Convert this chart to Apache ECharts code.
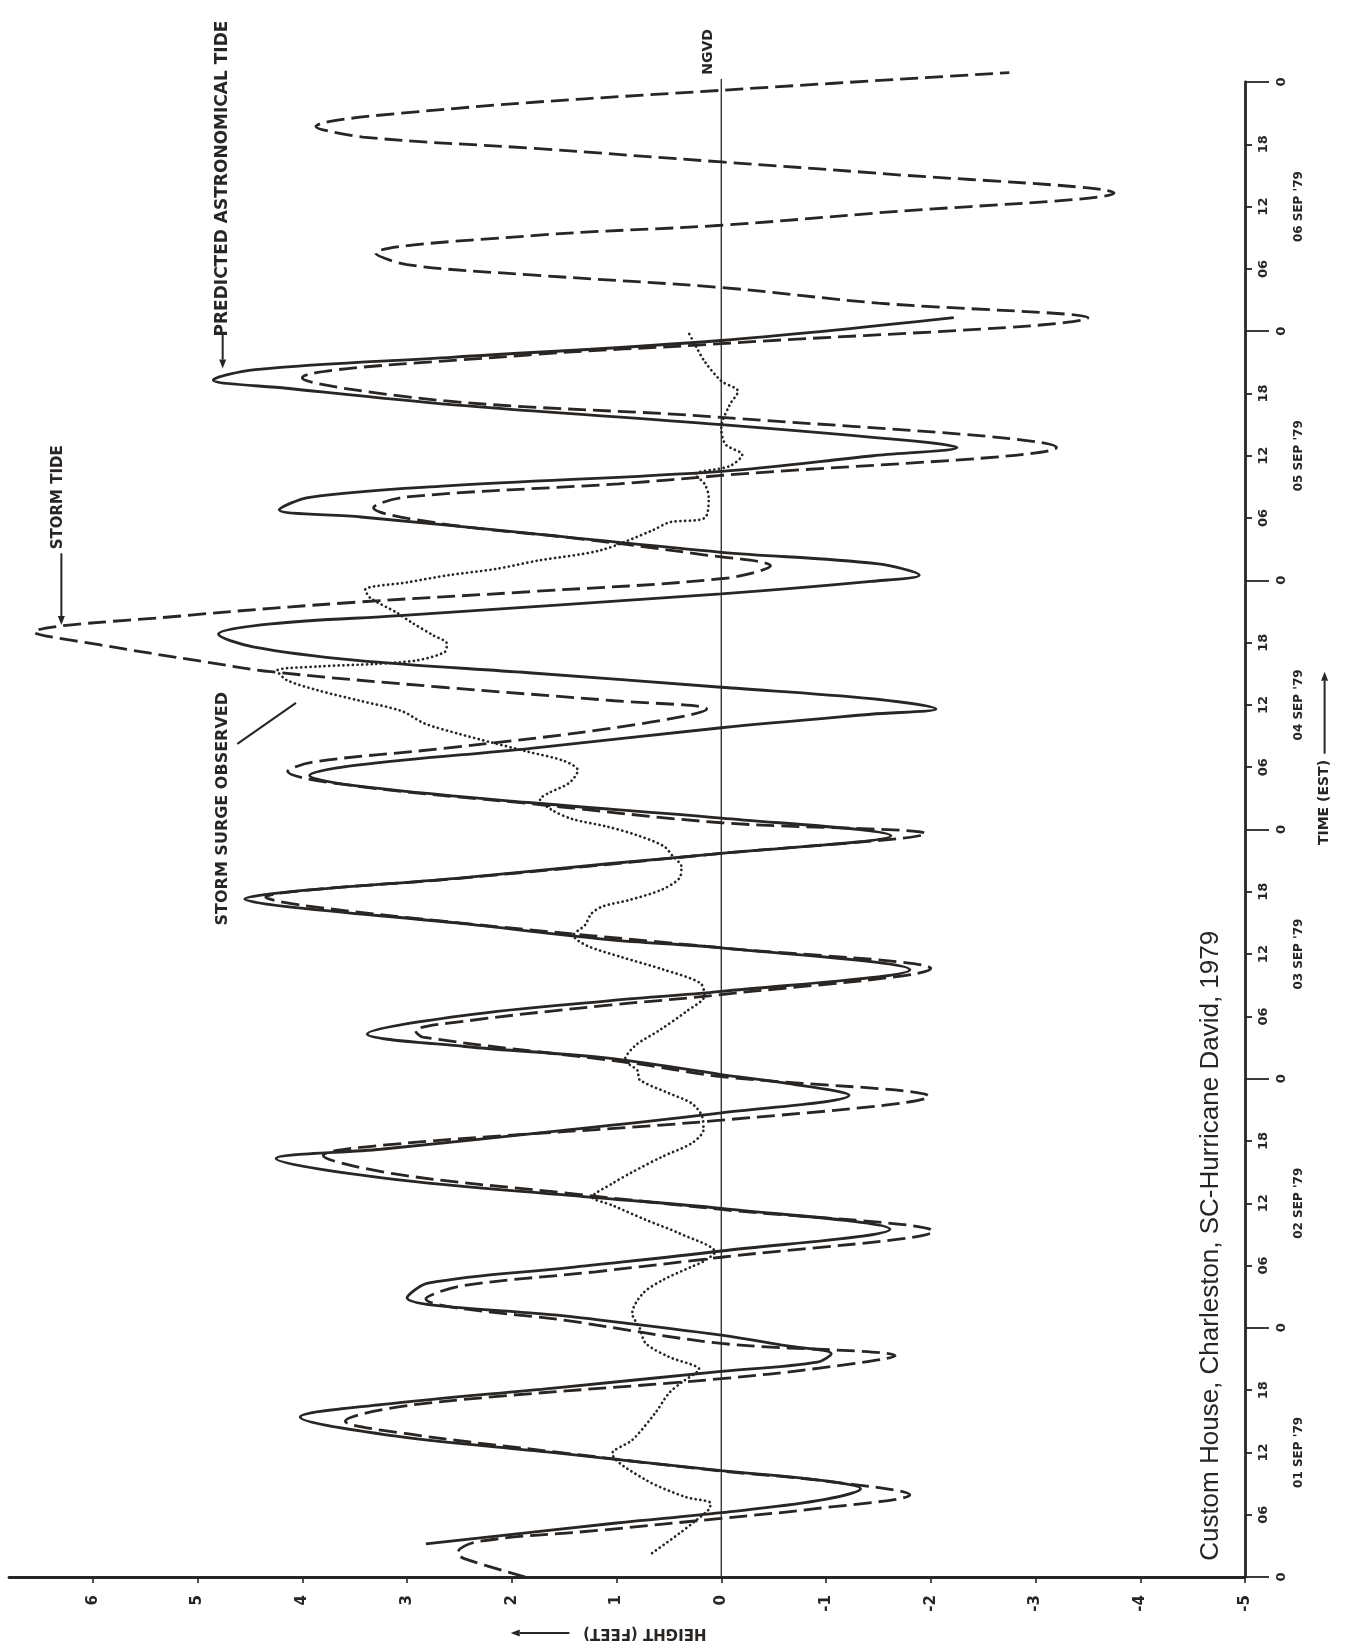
<!DOCTYPE html>
<html><head><meta charset="utf-8">
<script src="https://cdn.jsdelivr.net/npm/echarts@6/dist/echarts.min.js"></script>
<style>html,body{margin:0;padding:0;background:#fff;}#c{width:1356px;height:1648px;}</style>
</head><body><div id="c"></div>
<script>
// ---- DATA (hours since 01 Sep 1979 00:00 EST, height in feet rel. NGVD) ----
const predictedHours = [3.2,5.2,6.2,7.35,8.5,9.35,10.25,12.0,13.7,15.4,16.6,18.2,19.8,20.7,21.5,22.3,23.3,25.1,26.9,28.3,29.8,31.4,33.5,35.5,36.6,38.4,40.3,41.2,42.9,44.7,46.4,47.6,48.4,50.0,51.1,52.3,54.1,55.5,56.4,58.5,60.6,61.4,63.0,64.6,65.3,65.95,67.3,68.7,69.7,71.4,73.1,74.6,76.2,77.2,78.2,79.8,81.8,83.1,83.6,84.6,85.7,87.1,88.3,89.6,90.8,91.8,92.6,94.7,95.9,96.5,97.6,98.7,100.5,102.1,102.8,104.0,105.1,106.5,108.0,108.8,109.4,111.0,112.9,114.5,115.3,116.3,117.5,119.1,121.3];
const predictedFeet = [2.82,1.0,0,-0.92,-1.33,-0.92,0,1.62,3.2,4.02,3.25,1.6,0,-0.92,-1.05,-0.6,0,1.45,3.0,2.8,1.45,0,-1.61,0,1.26,3.2,4.25,3.25,1.62,0,-1.22,-0.6,0,1.1,2.45,3.38,2.45,1.08,0,-1.8,0,1.08,2.53,4.17,4.55,4.17,2.53,1.08,0,-1.62,0,1.84,3.48,3.93,3.48,1.84,0,-1.43,-2.05,-1.43,0,1.84,3.48,4.47,4.8,4.3,3.07,0,-1.43,-1.89,-1.48,0,1.8,3.44,4.22,3.93,2.62,0,-1.45,-2.25,-1.85,0,2.55,4.15,4.85,4.45,2.55,0,-2.22];

const stormTideHours = [0.0,1.8,2.3,3.4,4.5,5.65,6.6,7.9,9.35,10.2,12.0,13.8,15.0,16.6,19.1,20.1,21.3,22.5,24.6,26.8,28.0,29.4,30.8,33.3,35.4,37.0,38.8,40.6,41.8,44.0,46.3,48.2,49.5,52.0,52.6,53.6,55.1,56.1,58.6,60.6,63.0,64.7,65.5,66.2,67.3,69.7,71.6,72.65,74.5,76.2,77.6,78.5,79.8,81.8,83.6,84.4,85.7,87.2,88.2,89.8,91.0,92.6,93.9,94.9,96.2,97.4,98.5,100.0,101.5,103.0,104.0,105.3,106.1,108.8,111.7,113.3,115.5,117.7,118.8,121.3,122.7,124.2,125.4,126.4,127.5,129.2,130.2,131.4,133.3,135.2,136.3,137.6,138.7,139.7,141.4,143.2,144.9];
const stormTideFeet = [1.87,2.46,2.52,2.33,1.16,0,-0.92,-1.8,-0.9,0,1.55,3.0,3.59,2.93,0,-0.92,-1.66,0,1.4,2.82,2.5,1.2,0,-2.02,0,1.5,3.1,3.8,3.0,0,-1.98,0,0.85,2.85,2.92,2.4,1.05,0,-2.0,0,2.5,4.0,4.35,3.9,2.5,0,-1.95,0,1.84,3.5,4.14,3.9,2.66,1.02,0.14,1.02,2.66,4.3,4.96,5.94,6.56,5.12,3.48,1.84,-0.04,-0.47,0.2,1.35,2.7,3.32,3.03,0.98,0,-3.2,0,2.65,4.0,1.85,0,-3.5,-1.5,0,1.78,3.0,3.3,1.8,0,-1.5,-3.75,-1.5,0,1.78,3.42,3.87,2.6,0,-2.75];

const surgeHours = [2.3,4.2,5.3,6.5,7.1,7.7,9.35,11.9,13.2,15.8,17.7,18.8,19.6,20.0,21.2,22.5,24.0,25.4,27.3,28.6,29.9,30.4,31.3,33.1,34.4,35.8,36.6,37.9,39.0,40.5,41.8,43.1,44.3,45.6,46.6,47.9,48.8,49.8,51.2,52.6,54.5,56.0,57.2,58.5,59.7,60.8,61.8,62.8,63.9,64.6,65.2,66.2,67.3,68.4,69.4,70.4,71.5,72.3,73.0,73.9,74.9,75.5,76.5,77.7,78.6,79.5,80.4,81.2,82.2,83.4,84.4,85.4,86.4,87.3,87.7,87.95,88.3,89.1,89.9,90.7,91.9,92.9,94.3,95.1,95.8,96.5,97.1,97.9,98.9,100.8,101.6,102.0,104.0,105.3,106.2,107.0,108.1,109.1,110.7,112.9,114.2,115.2,117.1,118.7,120.0];
const surgeFeet = [0.66,0.40,0.26,0.12,0.10,0.34,0.72,1.04,0.85,0.63,0.50,0.37,0.25,0.21,0.5,0.72,0.78,0.85,0.75,0.56,0.28,0.17,0.06,0.40,0.72,1.04,1.23,1.04,0.85,0.56,0.28,0.17,0.18,0.28,0.5,0.78,0.8,0.92,0.82,0.6,0.33,0.16,0.2,0.55,0.95,1.28,1.41,1.3,1.24,1.13,0.88,0.57,0.4,0.38,0.46,0.55,0.82,1.1,1.42,1.62,1.73,1.65,1.45,1.37,1.5,1.85,2.2,2.5,2.83,3.05,3.45,3.85,4.15,4.24,3.85,3.3,2.9,2.64,2.62,2.75,2.95,3.1,3.35,3.4,3.0,2.6,2.15,1.75,1.15,0.66,0.49,0.16,0.12,0.16,0.25,-0.08,-0.2,-0.04,0,-0.08,-0.16,0,0.16,0.25,0.32];

const heightTicks = [-5,-4,-3,-2,-1,0,1,2,3,4,5,6];
const hourTicks = [6,12,18,30,36,42,54,60,66,78,84,90,102,108,114,126,132,138];
const hourLabels = ['0','06','12','18'];
const dayTicks = [0,24,48,72,96,120,144];
const dayLabelHours = [12,36,60,84,108,132];
const dayLabels = ["01 SEP '79","02 SEP '79","03 SEP '79","04 SEP '79","05 SEP '79","06 SEP '79"];
const ngvdHours = [0,144.3];
const ngvdFeet = [0,0];

// ---- STYLE ----
const INK = '#282523';
const LBL = "'DejaVu Sans', 'Liberation Sans', sans-serif";
const NARROW = "'Liberation Sans Narrow', 'DejaVu Sans', sans-serif";

const pairs = (hs, fs) => hs.map((t, i) => [fs[i], t]);

const yBase = {type:'value', min:0, max:144, position:'right', offset:0, gridIndex:0,
  splitLine:{show:false}};

const option = {
  backgroundColor:'#ffffff',
  animation:false,
  grid:{left:9, right:111, top:82, bottom:71, outerBoundsMode:'none', containLabel:false},
  xAxis:{type:'value', inverse:true, min:-5, max:6.8, position:'bottom',
    splitLine:{show:false},
    axisLine:{show:true, onZero:false, lineStyle:{color:INK, width:2.8}},
    axisTick:{show:true, customValues:heightTicks, length:6, inside:false, lineStyle:{color:INK, width:1.6}},
    axisLabel:{show:true, customValues:heightTicks, rotate:90, margin:18, color:INK,
      fontSize:15, fontWeight:'bold', fontFamily:NARROW, formatter:v=>String(v)}},
  yAxis:[
    Object.assign({}, yBase, {
      axisLine:{show:true, onZero:false, lineStyle:{color:INK, width:2.8}},
      axisTick:{show:true, customValues:hourTicks, length:7, inside:false, lineStyle:{color:INK, width:1.8}},
      axisLabel:{show:true, customValues:hourTicks, rotate:90, margin:12, color:INK,
        fontSize:13, fontWeight:'bold', fontFamily:NARROW, formatter:v=>hourLabels[(v%24)/6]}}),
    Object.assign({}, yBase, {
      axisLine:{show:false, onZero:false},
      axisTick:{show:true, customValues:dayTicks, length:24, inside:false, lineStyle:{color:INK, width:1.8}},
      axisLabel:{show:true, customValues:dayTicks, rotate:90, margin:30, color:INK,
        fontSize:13, fontWeight:'bold', fontFamily:NARROW, formatter:v=>hourLabels[0]}}),
    Object.assign({}, yBase, {
      axisLine:{show:false, onZero:false}, axisTick:{show:false},
      axisLabel:{show:true, customValues:dayLabelHours, rotate:90, margin:48, color:INK,
        fontSize:12, fontWeight:'bold', fontFamily:NARROW, formatter:v=>dayLabels[(v-12)/24]}})
  ],
  series:[
    {type:'line', name:'NGVD', data:pairs(ngvdHours, ngvdFeet), symbol:'none', silent:true,
      lineStyle:{color:INK, width:1.3}, clip:false, z:1},
    {type:'line', name:'Predicted astronomical tide', data:pairs(predictedHours, predictedFeet),
      symbol:'none', smooth:0.35, clip:false, lineStyle:{color:INK, width:2.8}, z:3},
    {type:'line', name:'Storm tide', data:pairs(stormTideHours, stormTideFeet),
      symbol:'none', smooth:0.35, clip:false, lineStyle:{color:INK, width:2.8, type:[18,7]}, z:3},
    {type:'line', name:'Storm surge observed', data:pairs(surgeHours, surgeFeet),
      symbol:'none', smooth:0.3, clip:false, lineStyle:{color:INK, width:2.7, type:[0.1,4.6], cap:'round'}, z:3}
  ]
};

const chart = echarts.init(document.getElementById('c'), null, {renderer:'canvas'});
chart.setOption(option);

const P = (h, t) => chart.convertToPixel({seriesIndex:1}, [h, t]);
function txt(h, t, text, size, rot, weight, family){
  const p = P(h, t);
  return {type:'text', x:p[0], y:p[1], rotation:rot, z:10,
    style:{text:text, fill:INK, fontSize:size, fontWeight:weight, fontFamily:family, align:'center', verticalAlign:'middle'}};
}
function arrow(a, b, head){
  const p1 = P(a[0], a[1]), p2 = P(b[0], b[1]);
  const dx = p2[0]-p1[0], dy = p2[1]-p1[1], L = Math.hypot(dx, dy), ux = dx/L, uy = dy/L;
  const hl = head ? 9 : 0, hw = 3.5;
  const bx = p2[0]-ux*hl, by = p2[1]-uy*hl;
  const out = [{type:'line', z:10, shape:{x1:p1[0], y1:p1[1], x2:bx, y2:by}, style:{stroke:INK, lineWidth:2}}];
  if (head) out.push({type:'polygon', z:10, shape:{points:[[p2[0],p2[1]],[bx-uy*hw,by+ux*hw],[bx+uy*hw,by-ux*hw]]}, style:{fill:INK}});
  return out;
}
const R90 = Math.PI/2;
const graphics = [].concat(
  [txt(6.33, 104.0, 'STORM TIDE', 15, R90, 'bold', LBL)],
  arrow([6.3, 98.6], [6.3, 91.7], true),
  [txt(4.76, 134.7, 'PREDICTED ASTRONOMICAL TIDE', 17, R90, 'bold', LBL)],
  arrow([4.76, 119.8], [4.76, 116.4], true),
  [txt(4.76, 74.0, 'STORM SURGE OBSERVED', 16, R90, 'bold', LBL)],
  arrow([4.62, 80.25], [4.06, 84.2], false),
  [txt(0.12, 146.9, 'NGVD', 14, R90, 'bold', LBL)],
  [txt(-4.67, 31.9, 'Custom House, Charleston, SC-Hurricane David, 1979', 26, R90, 'normal', "'Liberation Sans', sans-serif")],
  [txt(-5.76, 74.6, 'TIME (EST)', 14, R90, 'bold', NARROW)],
  arrow([-5.76, 79.3], [-5.76, 87.2], true),
  [txt(0.73, -5.4, 'HEIGHT (FEET)', 15, Math.PI, 'bold', NARROW)],
  arrow([1.45, -5.4], [2.01, -5.4], true)
);
chart.setOption({graphic: graphics});
</script></body></html>
